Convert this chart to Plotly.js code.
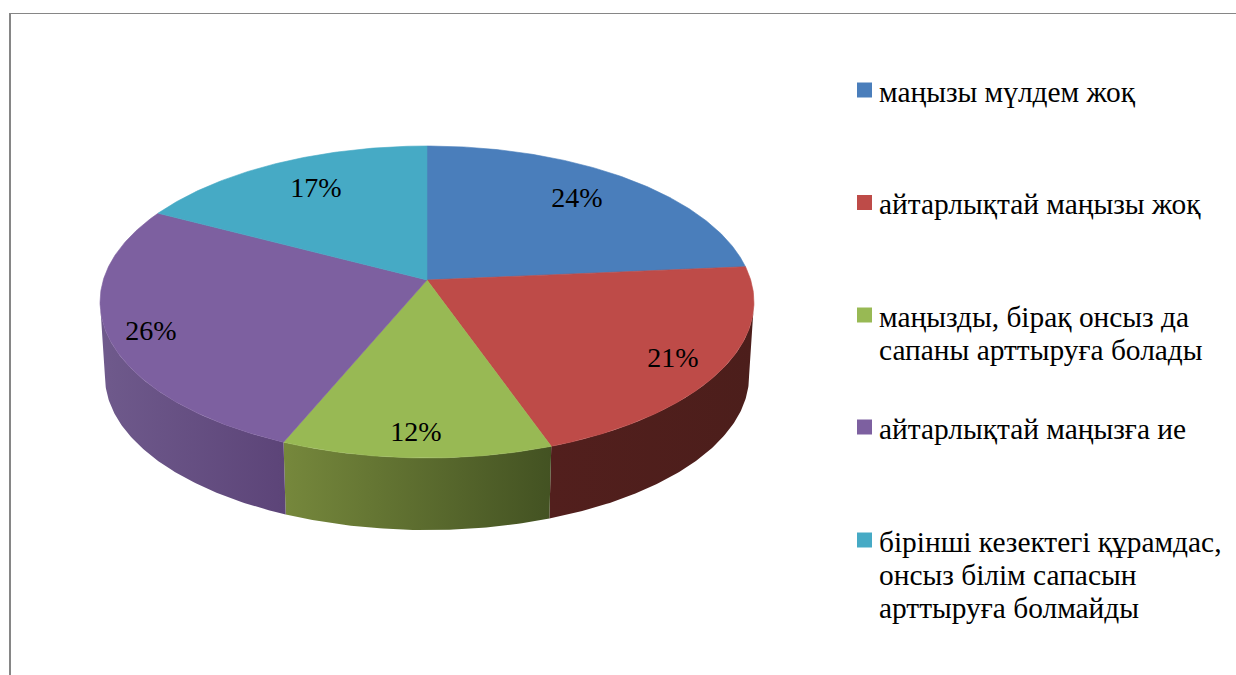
<!DOCTYPE html>
<html>
<head>
<meta charset="utf-8">
<script src="https://cdn.plot.ly/plotly-3.0.1.min.js"></script>
<style>html,body{margin:0;padding:0;background:#fff}</style>
</head>
<body>
<div id="chart" style="width:1236px;height:675px"></div>
<script>
// Data (labels show rounded percentages)
const categories = [
  "маңызы мүлдем жоқ",
  "айтарлықтай маңызы жоқ",
  "маңызды, бірақ онсыз да сапаны арттыруға болады",
  "айтарлықтай маңызға ие",
  "бірінші кезектегі құрамдас, онсыз білім сапасын арттыруға болмайды"
];
const values = [23.6, 21.0, 11.7, 26.4, 17.3];

// Legend lines
const legendLines = [
  ["маңызы мүлдем жоқ"],
  ["айтарлықтай маңызы жоқ"],
  ["маңызды, бірақ онсыз да", "сапаны арттыруға болады"],
  ["айтарлықтай маңызға ие"],
  ["бірінші кезектегі құрамдас,", "онсыз білім сапасын", "арттыруға болмайды"]
];

// Styles
const topColors = ["#4a7ebb", "#be4b48", "#98b954", "#7d60a0", "#46aac5"];
const wallLeft  = ["#3a6494", "#521f1d", "#76883c", "#6f5a8c", "#36859a"];
const wallRight = ["#3a6494", "#4c1e1b", "#435222", "#5c4478", "#36859a"];
const fontFamily = '"Liberation Serif", "Times New Roman", serif';
const legendFontSize = 29.4;
const labelFontSize = 28;
const lineStep = 33;

// Layout geometry (pixels of the 1236x675 canvas; axes run 1:1)
const cx = 427, cy = 280, persp = 0.141, radX = 323.7, radY = 152.9;
const depth = 74.7, bottomScale = 0.985;
const labelPos = [[577, 200], [673, 360], [416, 434], [151, 333], [316, 190]];
const swatchX = 864.5, legendTextX = 879.5, legendYs = [90, 202.5, 315, 427, 540];

function rim(theta, lower) {
  const u = Math.sin(theta), v = Math.cos(theta), w = 1 + persp * v;
  const x = radX * u / w, y = -radY * v / w;
  return lower ? [cx + bottomScale * x, cy + depth + bottomScale * y] : [cx + x, cy + y];
}
function arc(a0, a1, lower) {
  const n = Math.max(2, Math.ceil(Math.abs(a1 - a0) / 0.01)), pts = [];
  for (let i = 0; i <= n; i++) pts.push(rim(a0 + (a1 - a0) * i / n, lower));
  return pts;
}

const total = values.reduce((a, b) => a + b, 0);
let acc = 0;
const spans = values.map(val => {
  const a0 = acc / total * 2 * Math.PI;
  acc += val;
  return [a0, acc / total * 2 * Math.PI];
});
const wallFrom = Math.acos(-persp), wallTo = 2 * Math.PI - wallFrom;

const traces = [];
// side walls
spans.forEach((s, i) => {
  const a0 = Math.max(s[0], wallFrom), a1 = Math.min(s[1], wallTo);
  if (a1 <= a0) return;
  const pts = arc(a0, a1, false).concat(arc(a1, a0, true));
  pts.push(pts[0]);
  traces.push({
    type: "scatter", mode: "lines", fill: "toself", name: categories[i],
    x: pts.map(p => p[0]), y: pts.map(p => p[1]),
    line: {width: 0, color: wallRight[i]},
    fillcolor: wallRight[i],
    fillgradient: {type: "horizontal", colorscale: [[0, wallLeft[i]], [1, wallRight[i]]]},
    showlegend: false, hoverinfo: "skip"
  });
});
// top faces
spans.forEach((s, i) => {
  const pts = [[cx, cy]].concat(arc(s[0], s[1], false));
  pts.push([cx, cy]);
  traces.push({
    type: "scatter", mode: "lines", fill: "toself", name: categories[i],
    x: pts.map(p => p[0]), y: pts.map(p => p[1]),
    line: {width: 0.6, color: topColors[i]},
    fillcolor: topColors[i],
    showlegend: false, hoverinfo: "name"
  });
});
// percent labels
traces.push({
  type: "scatter", mode: "text",
  x: labelPos.map(p => p[0]), y: labelPos.map(p => p[1]),
  text: values.map(v => Math.round(v) + "%"),
  textposition: "middle center",
  textfont: {family: fontFamily, size: labelFontSize, color: "#000"},
  showlegend: false, hoverinfo: "skip"
});
// legend swatches
traces.push({
  type: "scatter", mode: "markers",
  x: legendYs.map(() => swatchX), y: legendYs,
  marker: {symbol: "square", size: 15, color: topColors, line: {width: 0}},
  showlegend: false, hoverinfo: "skip"
});

const annotations = [];
legendLines.forEach((lines, i) => lines.forEach((t, j) => annotations.push({
  x: legendTextX, y: legendYs[i] + 1.5 + j * lineStep, xref: "x", yref: "y",
  text: t, showarrow: false, xanchor: "left", yanchor: "middle",
  borderpad: 0, borderwidth: 0, xshift: -1,
  font: {family: fontFamily, size: legendFontSize, color: "#000"}
})));

const frame = {color: "#868686", width: 2};
const layout = {
  width: 1236, height: 675,
  margin: {l: 0, r: 0, t: 0, b: 0},
  paper_bgcolor: "#fff", plot_bgcolor: "#fff",
  showlegend: false,
  xaxis: {range: [0, 1236], visible: false, fixedrange: true},
  yaxis: {range: [675, 0], visible: false, fixedrange: true},
  annotations,
  shapes: [
    {type: "line", xref: "x", yref: "y", x0: 10, x1: 10, y0: 13, y1: 675, line: frame},
    {type: "line", xref: "x", yref: "y", x0: 9, x1: 1236, y0: 13.5, y1: 13.5, line: {color: "#868686", width: 1}}
  ]
};
Plotly.newPlot("chart", traces, layout, {displayModeBar: false, staticPlot: false});
</script>
</body>
</html>
